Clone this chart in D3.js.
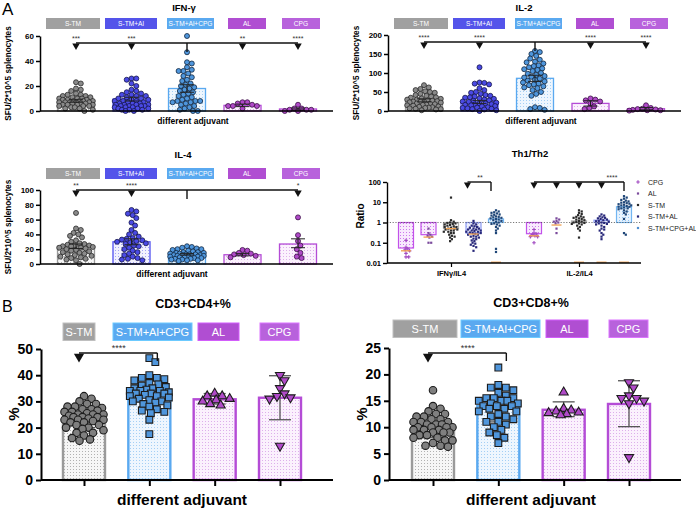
<!DOCTYPE html>
<html>
<head>
<meta charset="utf-8">
<script src="https://cdn.jsdelivr.net/npm/d3@7"></script>
<style>
  body { margin: 0; background: #fff; }
  svg { font-family: Arial, "Liberation Sans", sans-serif; }
</style>
</head>
<body>
<svg id="chart" width="696" height="510"></svg>
<script>
// ---------- data ----------
const groups5 = ["S-TM", "S-TM+Al", "S-TM+Al+CPG", "AL", "CPG"];

// IFN-γ spots
const ifnSTM   = [23,22,18,17,16,14,13,13,12,12,11,11,10,10,10,9,9,9,8,8,8,8,7,7,7,7,7,6,6,6,5,5,5,5,4,4,4,3,3,2,2,1,0];
const ifnSTMAl = [26,26,25,22,20,17,16,15,14,13,13,12,12,11,10,10,9,9,8,8,8,7,7,6,6,6,5,5,5,5,4,4,4,4,3,3,3,2,2,2,1,1,1,0,0];
const ifnCombo = [60,47,39,38,35,33,32,32,30,28,27,25,24,22,21,20,19,18,17,16,15,14,13,12,11,10,9,8,8,8,7,7,6,5,4,3,2,1,0,0];
const ifnAL    = [7,7,6,5,4,4,4,2];
const ifnCPG   = [5,2,2,1,1,1,0,0];
const ifnMeans = [8, 9.5, 18, 4.5, 1.6];
const ifnErr   = [[7,9],[8,11],[15,21],[3.5,5.5],[0.8,2.4]];
const ifnStars = ["***", "***", "", "**", "****"];

// IL-2 spots
const il2STM   = [68,62,58,55,52,50,48,45,42,40,38,36,35,33,32,30,30,28,27,26,25,25,24,23,22,20,19,18,17,16,15,14,12,11,10,9,8,7,6,5,4,2];
const il2STMAl = [115,75,74,72,70,60,55,50,48,45,42,40,38,36,35,33,32,30,28,27,25,24,22,20,20,18,17,16,15,13,12,10,9,8,7,6,5,4,2,0];
const il2Combo = [158,155,150,145,138,135,130,128,125,120,118,115,112,110,108,105,100,98,95,92,90,88,85,82,80,78,75,72,70,68,65,62,60,55,50,45,40,10,8,5,3];
const il2AL    = [33,30,28,25,20,12,8,5];
const il2CPG   = [15,8,6,5,4,3,2,2,1];
const il2Means = [28, 24, 86, 20, 6];
const il2Err   = [[24,32],[20,28],[78,94],[13,27],[3,9]];
const il2Stars = ["****", "****", "", "****", "****"];

// IL-4 spots
const il4STM   = [69,48,46,42,40,38,36,32,30,28,27,26,25,25,24,24,23,22,22,21,20,19,18,17,16,15,14,13,12,11,10,9,8,7,6,5,0];
const il4STMAl = [73,71,68,66,62,56,52,46,42,40,37,35,34,33,32,31,30,29,28,27,25,24,22,20,18,16,14,12,10,8,7,6,5];
const il4Combo = [24,23,22,21,20,20,19,18,17,16,16,15,15,14,14,13,13,13,12,12,12,11,11,11,10,10,10,9,9,8,8,7,7,6,6,5,5,4];
const il4AL    = [19,18,15,14,13,12,11,9];
const il4CPG   = [63,39,31,25,20,15,10,8];
const il4Means = [24, 30, 13, 12.5, 27];
const il4Err   = [[21,27],[26,34],[12,14],[11,14],[22,34]];
const il4Stars = ["**", "****", "", "", "*"];

// Th1/Th2 ratios
const thSeries = ["CPG", "AL", "S-TM", "S-TM+AL", "S-TM+CPG+AL"];
const thRatios = ["IFNγ/IL4", "IL-2/IL4"];
const thTicks = [0.01, 0.1, 1, 10, 100];
const thTickLabels = ["0.01", "0.1", "1", "10", "100"];
const thIfnCPG   = [0.13,0.06,0.05,0.045,0.04,0.03,0.02,0.02];
const thIfnAL    = [0.5,0.3,0.25,0.22,0.2,0.18,0.1,0.1];
const thIfnSTM   = [17,1.3,1.1,1.0,0.95,0.9,0.85,0.8,0.75,0.7,0.65,0.6,0.6,0.55,0.5,0.5,0.45,0.45,0.4,0.4,0.35,0.35,0.3,0.3,0.25,0.22,0.2,0.18,0.15,0.12];
const thIfnSTMAL = [1.2,0.9,0.8,0.7,0.65,0.6,0.55,0.5,0.5,0.45,0.45,0.4,0.4,0.38,0.35,0.35,0.32,0.3,0.3,0.28,0.25,0.25,0.22,0.2,0.2,0.18,0.16,0.15,0.13,0.12,0.1,0.09,0.08,0.07,0.06,0.04];
const thIfnCombo = [4,3.5,3.2,3,2.8,2.5,2.4,2.2,2,1.9,1.8,1.7,1.6,1.5,1.4,1.3,1.2,1.1,1,0.9,0.85,0.8,0.7,0.6,0.5,0.4,0.3,0.05,0.035];
const thIl2CPG   = [0.45,0.3,0.27,0.25,0.22,0.2,0.2,0.1];
const thIl2AL    = [1.6,1.4,1.2,1.1,1.0,0.9,0.5,0.3];
const thIl2STM   = [4,3.5,3,2.6,2.3,2,1.9,1.8,1.7,1.6,1.5,1.4,1.3,1.2,1.1,1.05,1,0.95,0.9,0.85,0.8,0.7,0.6,0.5,0.4,0.18];
const thIl2STMAL = [2.5,2.2,2,1.8,1.7,1.6,1.5,1.4,1.3,1.2,1.15,1.1,1,0.95,0.9,0.85,0.8,0.7,0.6,0.5,0.45,0.4,0.3,0.25,0.2,0.15];
const thIl2Combo = [20,17,15,13,12,11,10,9.5,9,8.5,8,7.5,7,7,6.5,6,6,5.5,5,5,4.5,4,3.5,3,2.5,1.5,0.3,0.25];
const thIfnBars = [0.055, 0.25, 0.5, 0.3, 1.5];
const thIl2Bars = [0.28, 1.0, 1.2, 1.3, 6];
const thIfnMed  = [0.04, 0.19, 0.5, 0.27, null];
const thIl2Med  = [0.22, 0.75, null, null, null];
const thFloor   = [["IFNγ/IL4", "S-TM+CPG+AL"], ["IL-2/IL4", "S-TM"], ["IL-2/IL4", "S-TM+AL"], ["IL-2/IL4", "S-TM+CPG+AL"]];

// flow cytometry
const groups4 = ["S-TM", "S-TM+Al+CPG", "AL", "CPG"];
const cd4STM   = [32,31,30,29,29,28,28,27.5,27,27,26.5,26,26,25.5,25,25,25,24.5,24,24,24,23.5,23,23,23,22.5,22,22,21,21,20,20,19.5,19,18,18,17,16,15.5,15];
const cd4Combo = [46.5,45,40,39,39,38.5,38,37,36.5,36,35.5,35,35,34.5,34,34,34,33.5,33,33,33,32.5,32,32,31.5,31,30.5,30,30,29.5,29,28.5,28,27,26.5,26,25.5,23,17.5];
const cd4AL    = [33,32,32,31,30.5,30,29,28.5];
const cd4CPG   = [40,38,35,33,32,31.5,31,13];
const cd4Means = [23.5, 32, 30.8, 31.4];
const cd4Err   = [[20,27],[28,36],[29,33],[23,39.8]];
const cd8STM   = [17,14,13.5,13,12.5,12.5,12,12,11.5,11.5,11,11,11,10.5,10.5,10.5,10,10,10,10,9.5,9.5,9.5,9,9,9,8.5,8.5,8,8,7.5,7.5,7,6.5,6.5,6.3];
const cd8Combo = [21.3,18,17.5,17.5,17,16.5,16,15.5,15.5,15.5,15,15,15,14.5,14.5,14,14,14,13.5,13.5,13,13,12.5,12,12,11.5,11,11,10.5,10,9.5,9,8.5,8,7];
const cd8AL    = [16.6,13.5,13.2,13,12.8,12.7,12.5,12.3];
const cd8CPG   = [18.5,17.5,16,15.5,15.5,15,14.5,4.3];
const cd8Means = [10, 14, 13.3, 14.4];
const cd8Err   = [[8,12],[11,17],[12,14.8],[10.1,18.8]];

// ---------- styles ----------
const FONT = 'Arial, "Liberation Sans", sans-serif';
const look = {
  "S-TM":        { line: "#9a9a9a", box: "#a0a0a0", dot: "#8a8a8a", edge: "#2a2a2a", bg: "#f6f6f6", grain: "#9a9a9a" },
  "S-TM+Al":     { line: "#5050f0", box: "#5454ea", dot: "#4a4ae4", edge: "#15154a", bg: "#f1f1fe", grain: "#8a8af0" },
  "S-TM+Al+CPG": { line: "#5aa9f0", box: "#5aa9f0", dot: "#4f96dc", edge: "#10263f", bg: "#eef6fe", grain: "#8cc2f2" },
  "AL":          { line: "#b44cd6", box: "#b04ed2", dot: "#b04ac8", edge: "#3a0f45", bg: "#fbf1fd", grain: "#d49ae6" },
  "CPG":         { line: "#b44cd6", box: "#b862dc", dot: "#b04ac8", edge: "#3a0f45", bg: "#fbf1fd", grain: "#d49ae6" }
};
const thLook = {
  "CPG":         { line: "#c252ea", bg: "#f8eafd", pt: "#a24cc2" },
  "AL":          { line: "#c252ea", bg: "#f8eafd", pt: "#7b4a9c" },
  "S-TM":        { line: "#b0b0b0", bg: "#ffffff", pt: "#2a2a2a" },
  "S-TM+AL":     { line: "#8d9cf2", bg: "#eef0fd", pt: "#28287a" },
  "S-TM+CPG+AL": { line: "#72b6f2", bg: "#e8f3fe", pt: "#1f4678" }
};

const svg = d3.select("#chart");
const defs = svg.append("defs");
function makePattern(id, bg, grain) {
  const p = defs.append("pattern").attr("id", id)
    .attr("width", 3).attr("height", 3).attr("patternUnits", "userSpaceOnUse");
  p.append("rect").attr("width", 3).attr("height", 3).attr("fill", bg);
  p.append("circle").attr("cx", 1.5).attr("cy", 1.5).attr("r", 0.5).attr("fill", grain);
}
groups5.forEach((g, i) => makePattern("pat" + i, look[g].bg, look[g].grain));
thSeries.forEach((s, i) => makePattern("thpat" + i, thLook[s].bg, thLook[s].line));
const patOf = g => "url(#pat" + groups5.indexOf(g) + ")";

function styleAxis(g, fs, sw) {
  g.selectAll("path.domain").attr("stroke", "#000").attr("stroke-width", sw);
  g.selectAll(".tick line").attr("stroke", "#000").attr("stroke-width", sw);
  g.selectAll(".tick text").attr("font-size", fs).attr("font-weight", "bold")
    .attr("fill", "#000").attr("font-family", FONT);
}

// deterministic beeswarm: nearest free slot, kept inside +-maxHalf (overlap allowed when full)
function swarm(vals, y, cx, r, step, maxHalf) {
  const pts = vals.map(v => ({ v, py: y(v) })).sort((a, b) => a.py - b.py);
  const placed = [];
  const d2 = 4 * r * r;
  pts.forEach(p => {
    let best = 0, bestD = -1;
    for (let k = 0; ; k++) {
      const off = k === 0 ? 0 : (k % 2 ? 1 : -1) * Math.ceil(k / 2) * step;
      if (Math.abs(off) > maxHalf) break;
      const dmin = placed.length ? d3.min(placed, q => (q.px - (cx + off)) ** 2 + (q.py - p.py) ** 2) : Infinity;
      if (dmin >= d2) { best = off; break; }
      if (dmin > bestD) { bestD = dmin; best = off; }
    }
    p.px = cx + best;
    placed.push(p);
  });
  return placed;
}

function text(x, y, str, size, weight, anchor, fill) {
  return svg.append("text").attr("x", x).attr("y", y).text(str)
    .attr("font-size", size).attr("font-weight", weight || "normal")
    .attr("text-anchor", anchor || "middle").attr("fill", fill || "#000");
}

function sigMarks(xs, stars, hubX, lineY, drop, triSize, starSize) {
  const allX = xs.concat([hubX]);
  svg.append("line").attr("x1", d3.min(allX)).attr("x2", d3.max(allX))
    .attr("y1", lineY).attr("y2", lineY).attr("stroke", "#111").attr("stroke-width", 1.4);
  svg.append("line").attr("x1", hubX).attr("x2", hubX)
    .attr("y1", lineY).attr("y2", lineY + drop).attr("stroke", "#111").attr("stroke-width", 1.4);
  xs.forEach((x, i) => {
    svg.append("path").attr("d", d3.symbol(d3.symbolTriangle, triSize)())
      .attr("transform", `translate(${x},${lineY + Math.sqrt(triSize) * 0.55}) rotate(180)`)
      .attr("fill", "#111");
    if (stars[i]) text(x, lineY - 2, stars[i], starSize, "normal", "middle", "#333");
  });
}

// ---------- top cytokine panels ----------
const topBoxes = [[46, 100], [105, 157], [167, 214], [228, 266], [282, 320]];

function cytokinePanel(c) {
  const y = d3.scaleLinear().domain([0, c.yMax]).range([c.yBot, c.yTop]);
  const x = d3.scalePoint().domain(groups5).range([c.x0 + 76, c.x0 + 298]);
  const bw = 37;

  text(c.titleX, c.titleY, c.title, 9.5, "bold");
  groups5.forEach((g, i) => {
    const b = topBoxes[i];
    svg.append("rect").attr("x", c.x0 + b[0]).attr("y", c.boxY)
      .attr("width", b[1] - b[0]).attr("height", 11).attr("fill", look[g].box);
    text(c.x0 + (b[0] + b[1]) / 2, c.boxY + 8, g, 6.6, "normal", "middle", "#fff");
  });

  groups5.forEach((g, i) => {
    svg.append("rect").attr("x", x(g) - bw / 2).attr("y", y(c.means[i]))
      .attr("width", bw).attr("height", y(0) - y(c.means[i]))
      .attr("fill", patOf(g)).attr("stroke", look[g].line).attr("stroke-width", 1.3);
  });
  groups5.forEach((g, i) => {
    swarm(c.vals[i], y, x(g), 2.3, 1.2, 17).forEach(p => {
      svg.append("circle").attr("cx", p.px).attr("cy", p.py).attr("r", 2.5)
        .attr("fill", look[g].dot).attr("stroke", look[g].edge).attr("stroke-width", 0.8);
    });
  });
  groups5.forEach((g, i) => {
    const e = c.errs[i], cx = x(g);
    const eg = svg.append("g").attr("stroke", "#222").attr("stroke-width", 1);
    eg.append("line").attr("x1", cx).attr("x2", cx).attr("y1", y(e[0])).attr("y2", y(e[1]));
    eg.append("line").attr("x1", cx - 7).attr("x2", cx + 7).attr("y1", y(e[0])).attr("y2", y(e[0]));
    eg.append("line").attr("x1", cx - 7).attr("x2", cx + 7).attr("y1", y(e[1])).attr("y2", y(e[1]));
  });

  const ax = svg.append("g").attr("transform", `translate(${c.axisX},0)`)
    .call(d3.axisLeft(y).tickValues(c.ticks).tickSize(4).tickSizeOuter(0).tickPadding(2));
  styleAxis(ax, 8, 1.5);
  svg.append("line").attr("x1", c.axisX).attr("x2", c.xRight)
    .attr("y1", c.yBot).attr("y2", c.yBot).attr("stroke", "#000").attr("stroke-width", 1.5);

  const shown = groups5.map((g, i) => i).filter(i => c.tri[i]);
  sigMarks(shown.map(i => x(groups5[i])), shown.map(i => c.stars[i]),
    x(groups5[2]), c.sigY, 9, 24, 7);

  text(c.xLabX, c.xLabY, "different adjuvant", 8.5, "bold");
  text(0, 0, "SFU/2*10^5 splenocytes", 8.2, "bold")
    .attr("transform", `translate(${c.yLabX},${(c.yTop + c.yBot) / 2}) rotate(-90)`);
}

cytokinePanel({ x0: 0, title: "IFN-γ", titleX: 184, titleY: 11, boxY: 18,
  yMax: 60, ticks: [0, 20, 40, 60], yTop: 36, yBot: 111, axisX: 40, xRight: 333,
  vals: [ifnSTM, ifnSTMAl, ifnCombo, ifnAL, ifnCPG], means: ifnMeans, errs: ifnErr,
  stars: ifnStars, tri: [1, 1, 0, 1, 1], sigY: 43, xLabX: 193, xLabY: 124, yLabX: 11 });
cytokinePanel({ x0: 348, title: "IL-2", titleX: 524, titleY: 11, boxY: 18,
  yMax: 200, ticks: [0, 50, 100, 150, 200], yTop: 35, yBot: 111, axisX: 388, xRight: 681,
  vals: [il2STM, il2STMAl, il2Combo, il2AL, il2CPG], means: il2Means, errs: il2Err,
  stars: il2Stars, tri: [1, 1, 0, 1, 1], sigY: 42, xLabX: 541, xLabY: 124, yLabX: 359 });
cytokinePanel({ x0: 0, title: "IL-4", titleX: 183, titleY: 158, boxY: 168,
  yMax: 100, ticks: [0, 20, 40, 60, 80, 100], yTop: 190, yBot: 264, axisX: 40, xRight: 333,
  vals: [il4STM, il4STMAl, il4Combo, il4AL, il4CPG], means: il4Means, errs: il4Err,
  stars: il4Stars, tri: [1, 1, 0, 0, 1], sigY: 190, xLabX: 172, xLabY: 277, yLabX: 11 });

// ---------- Th1/Th2 panel ----------
(function () {
  const axisX = 387, xRight = 641;
  const y = d3.scaleLog().domain([0.01, 100]).range([263, 182]);
  const outer = d3.scalePoint().domain(thRatios).range([451, 579]);
  const inner = d3.scalePoint().domain(thSeries).range([-45, 45]);
  const pos = (r, s) => outer(r) + inner(s);
  const pts = { "IFNγ/IL4": [thIfnCPG, thIfnAL, thIfnSTM, thIfnSTMAL, thIfnCombo],
                "IL-2/IL4": [thIl2CPG, thIl2AL, thIl2STM, thIl2STMAL, thIl2Combo] };
  const bars = { "IFNγ/IL4": thIfnBars, "IL-2/IL4": thIl2Bars };
  const meds = { "IFNγ/IL4": thIfnMed, "IL-2/IL4": thIl2Med };

  text(530, 157, "Th1/Th2", 9.5, "bold");

  thRatios.forEach(r => thSeries.forEach((s, i) => {
    const v = bars[r][i], cx = pos(r, s);
    svg.append("rect").attr("x", cx - 7.5).attr("width", 15)
      .attr("y", Math.min(y(v), y(1))).attr("height", Math.abs(y(v) - y(1)))
      .attr("fill", `url(#thpat${i})`).attr("stroke", thLook[s].line).attr("stroke-width", 1.2);
  }));
  svg.append("line").attr("x1", axisX).attr("x2", xRight).attr("y1", y(1)).attr("y2", y(1))
    .attr("stroke", "#555").attr("stroke-width", 0.8).attr("stroke-dasharray", "1.2,1.6");

  thRatios.forEach(r => thSeries.forEach((s, i) => {
    const cx = pos(r, s);
    swarm(pts[r][i], y, cx, 1.2, 0.9, 8).forEach(p => {
      if (s === "CPG") {
        svg.append("path").attr("d", d3.symbol(d3.symbolCross, 7)())
          .attr("transform", `translate(${p.px},${p.py})`).attr("fill", thLook[s].pt);
      } else {
        svg.append("rect").attr("x", p.px - 1.1).attr("y", p.py - 1.1)
          .attr("width", 2.2).attr("height", 2.2).attr("fill", thLook[s].pt);
      }
    });
    const m = meds[r][i];
    if (m !== null) {
      svg.append("line").attr("x1", cx - 5).attr("x2", cx + 5).attr("y1", y(m)).attr("y2", y(m))
        .attr("stroke", "#f0a050").attr("stroke-width", 1.3);
    }
  }));
  thFloor.forEach(([r, s]) => {
    const cx = pos(r, s);
    svg.append("line").attr("x1", cx - 5).attr("x2", cx + 5).attr("y1", y(0.011)).attr("y2", y(0.011))
      .attr("stroke", "#f0a050").attr("stroke-width", 1.2);
  });

  const ax = svg.append("g").attr("transform", `translate(${axisX},0)`)
    .call(d3.axisLeft(y).tickValues(thTicks).tickFormat((d, i) => thTickLabels[i])
      .tickSize(4).tickSizeOuter(0).tickPadding(2));
  styleAxis(ax, 7.5, 1.4);
  const bx = svg.append("g").attr("transform", `translate(0,${y(0.01)})`)
    .call(d3.axisBottom(outer).tickSize(4).tickPadding(4));
  bx.select("path.domain").remove();
  styleAxis(bx, 7.5, 1.2);
  svg.append("line").attr("x1", axisX).attr("x2", xRight).attr("y1", y(0.01)).attr("y2", y(0.01))
    .attr("stroke", "#000").attr("stroke-width", 1.4);

  // significance brackets
  sigMarks([pos("IFNγ/IL4", "S-TM+AL") - 6], [""], pos("IFNγ/IL4", "S-TM+CPG+AL") - 5, 182, 9, 22, 7);
  text(480, 180, "**", 7, "normal", "middle", "#333");
  sigMarks(["CPG", "AL", "S-TM", "S-TM+AL"].map(s => pos("IL-2/IL4", s)), ["", "", "", ""],
    pos("IL-2/IL4", "S-TM+CPG+AL"), 182, 9, 22, 7);
  text(612, 180, "****", 7, "normal", "middle", "#333");

  text(0, 0, "Ratio", 10, "bold").attr("transform", "translate(364,216) rotate(-90)");

  // legend
  thSeries.forEach((s, i) => {
    const ly = 182 + i * 11.5;
    if (s === "CPG") {
      svg.append("path").attr("d", d3.symbol(d3.symbolCross, 7)())
        .attr("transform", `translate(638,${ly})`).attr("fill", thLook[s].pt);
    } else {
      svg.append("rect").attr("x", 636.9).attr("y", ly - 1.1).attr("width", 2.2).attr("height", 2.2)
        .attr("fill", s === "S-TM+CPG+AL" ? "#4f8ed0" : thLook[s].pt);
    }
    text(648, ly + 2.5, s, 7, "normal", "start", "#222");
  });
})();

// ---------- B: flow cytometry panels ----------
const shapes = { "S-TM": d3.symbolCircle, "S-TM+Al+CPG": d3.symbolSquare, "AL": d3.symbolTriangle, "CPG": d3.symbolTriangle };
const shapeSize = { "S-TM": 44, "S-TM+Al+CPG": 46, "AL": 36, "CPG": 36 };

function flowPanel(c) {
  const y = d3.scaleLinear().domain([0, c.yMax]).range([480, c.yTop]);
  const x = d3.scalePoint().domain(groups4).range([c.x0 + 84, c.x0 + 280]);
  const bw = 42;

  text(c.titleX, c.titleY, c.title, 12.5, "bold");
  groups4.forEach((g, i) => {
    const b = c.boxes[i];
    svg.append("rect").attr("x", b[0]).attr("y", c.boxY).attr("width", b[1] - b[0]).attr("height", 17.5)
      .attr("fill", look[g].box).attr("stroke", d3.color(look[g].box).brighter(0.5)).attr("stroke-width", 1);
    text((b[0] + b[1]) / 2, c.boxY + 13, g, 11, "normal", "middle", "#fff");
  });

  groups4.forEach((g, i) => {
    svg.append("rect").attr("x", x(g) - bw / 2).attr("y", y(c.means[i]))
      .attr("width", bw).attr("height", y(0) - y(c.means[i]))
      .attr("fill", patOf(g)).attr("stroke", look[g].line).attr("stroke-width", 2.4);
  });
  groups4.forEach((g, i) => {
    const e = c.errs[i], cx = x(g);
    const eg = svg.append("g").attr("stroke", "#555").attr("stroke-width", 1.3);
    eg.append("line").attr("x1", cx).attr("x2", cx).attr("y1", y(e[0])).attr("y2", y(e[1]));
    eg.append("line").attr("x1", cx - 11).attr("x2", cx + 11).attr("y1", y(e[0])).attr("y2", y(e[0]));
    eg.append("line").attr("x1", cx - 11).attr("x2", cx + 11).attr("y1", y(e[1])).attr("y2", y(e[1]));
  });
  groups4.forEach((g, i) => {
    swarm(c.vals[i], y, x(g), 3.3, 1.5, 20).forEach(p => {
      svg.append("path").attr("d", d3.symbol(shapes[g], shapeSize[g])())
        .attr("transform", `translate(${p.px},${p.py})` + (g === "CPG" ? " rotate(180)" : ""))
        .attr("fill", g === "S-TM" ? "#7f7f7f" : look[g].dot)
        .attr("stroke", "#1c1c1c").attr("stroke-width", 1.1);
    });
  });

  const ax = svg.append("g").attr("transform", `translate(${c.axisX},0)`)
    .call(d3.axisLeft(y).tickValues(c.ticks).tickSize(5).tickSizeOuter(0).tickPadding(3));
  styleAxis(ax, 14, 2);
  const bx = svg.append("g").attr("transform", `translate(0,480)`)
    .call(d3.axisBottom(x).tickSize(6).tickFormat(""));
  bx.select("path.domain").remove();
  styleAxis(bx, 12, 2);
  svg.append("line").attr("x1", c.axisX).attr("x2", c.xRight).attr("y1", 480).attr("y2", 480)
    .attr("stroke", "#000").attr("stroke-width", 2);

  sigMarks([x("S-TM") - 5], [""], x("S-TM+Al+CPG") + 8, 353, 8, 45, 9);
  text((x("S-TM") + x("S-TM+Al+CPG")) / 2 + 2, 351, "****", 9, "normal", "middle", "#333");

  text(c.xLabX, 505, "different adjuvant", 15.5, "bold");
  text(0, 0, "%", 15, "bold").attr("transform", `translate(${c.yLabX},414) rotate(-90)`);
}

flowPanel({ x0: 0, title: "CD3+CD4+%", titleX: 193, titleY: 308, boxY: 323,
  boxes: [[63, 95], [113, 192], [198, 239], [260, 299]],
  yMax: 50, yTop: 349, ticks: [0, 10, 20, 30, 40, 50], axisX: 41, xRight: 333,
  vals: [cd4STM, cd4Combo, cd4AL, cd4CPG], means: cd4Means, errs: cd4Err,
  xLabX: 182, yLabX: 19 });
flowPanel({ x0: 349, title: "CD3+CD8+%", titleX: 531, titleY: 307, boxY: 320,
  boxes: [[393, 457], [461, 540], [546, 588], [609, 648]],
  yMax: 25, yTop: 348, ticks: [0, 5, 10, 15, 20, 25], axisX: 389, xRight: 681,
  vals: [cd8STM, cd8Combo, cd8AL, cd8CPG], means: cd8Means, errs: cd8Err,
  xLabX: 531, yLabX: 367 });

// panel letters
text(2, 15, "A", 17, "normal", "start");
text(2, 312, "B", 16, "normal", "start");
</script>
</body>
</html>
